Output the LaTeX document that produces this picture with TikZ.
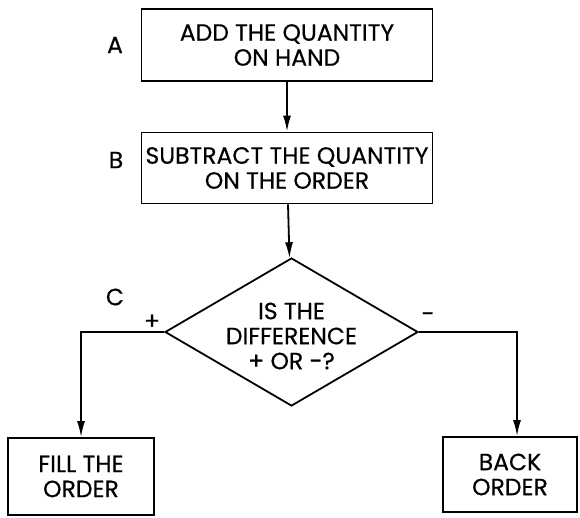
\documentclass[tikz,border=0pt]{standalone}
\usepackage{fontspec}
\setmainfont{Poppins}[FakeBold=0.4]
\usetikzlibrary{shapes.geometric,arrows.meta}

\begin{document}
\begin{tikzpicture}[x=1pt,y=-1pt,line width=1.8pt,
  font=\fontsize{23.5}{25}\selectfont,
  stepbox/.style={draw,rectangle,inner sep=0pt,align=center},
  decision/.style={draw,diamond,inner sep=0pt,minimum width=253pt,minimum height=148pt},
  flow/.style={-{Latex[length=16pt,width=8pt]}}]
\useasboundingbox (0,0) rectangle (580,517);
\node[stepbox,minimum width=291pt,minimum height=72pt] (add) at (287,45) {ADD THE QUANTITY\\ON HAND};
\node[stepbox,minimum width=291pt,minimum height=71pt] (sub) at (287,168) {SUBTRACT THE QUANTITY\\ON THE ORDER};
\node[decision] (diff) at (291.5,332) {};
\node[align=center] (diffq) at (291.5,336) {IS THE\\DIFFERENCE\\+ OR -?};
\node[stepbox,minimum width=146pt,minimum height=77pt] (fill) at (81,476.5) {FILL THE\\ORDER};
\node[stepbox,minimum width=134pt,minimum height=75pt] (back) at (510,474.5) {BACK\\ORDER};
\node (la) at (115,45) {A};
\node (lb) at (116,160) {B};
\node (lc) at (115,297) {C};
\node (plus) at (152,322) {+};
\node (minus) at (428,317) {-};
\draw[flow] (add) -- (sub);
\draw[flow] (sub) -- (diff);
\draw[flow] (diff.west) -| (fill.north);
\draw[flow] (diff.east) -| ([xshift=7pt]back.north);
\end{tikzpicture}
\end{document}
